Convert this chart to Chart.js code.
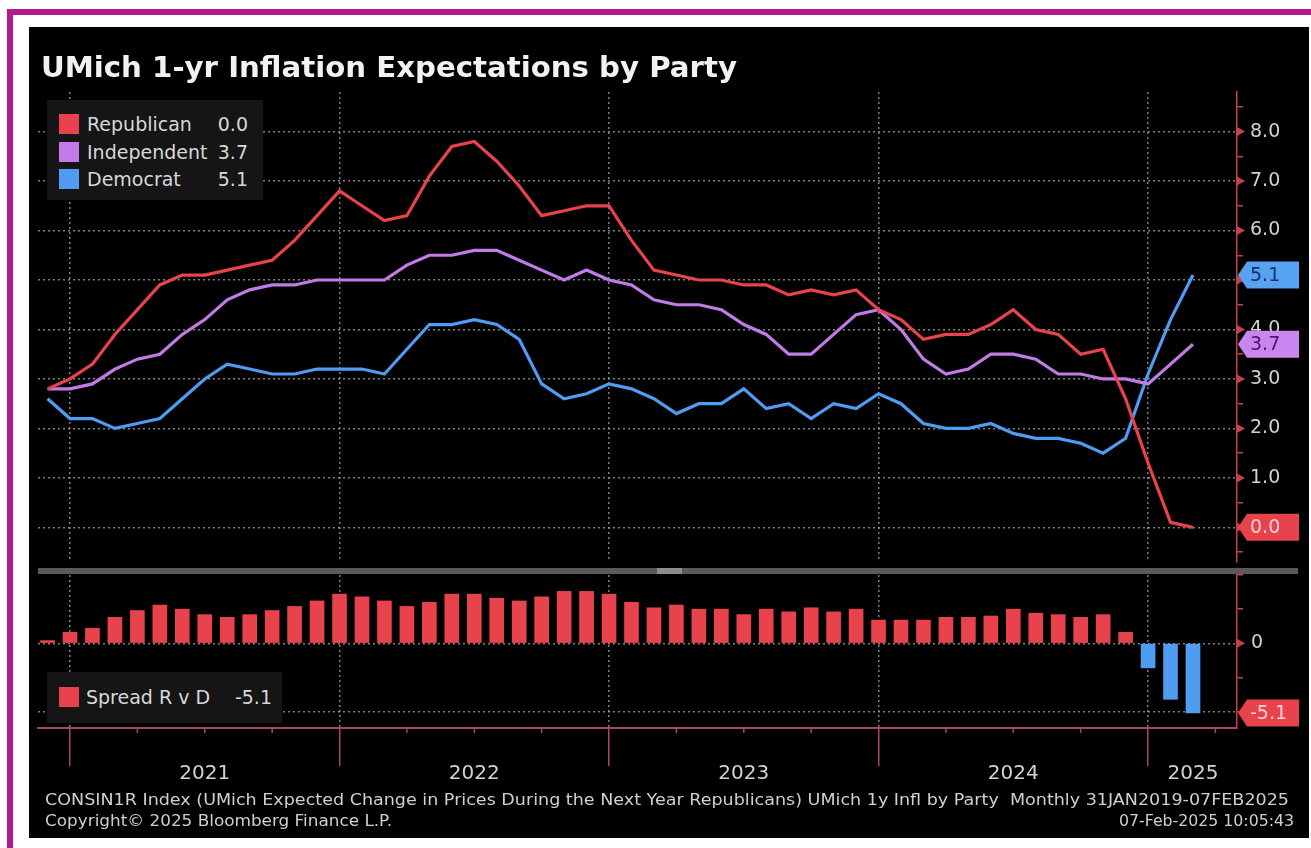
<!DOCTYPE html>
<html>
<head>
<meta charset="utf-8">
<title>UMich 1-yr Inflation Expectations by Party</title>
<script src="https://cdn.jsdelivr.net/npm/chart.js@4.4.1/dist/chart.umd.min.js"></script>
<style>
  html, body { margin: 0; padding: 0; background: #ffffff; width: 1311px; height: 848px; overflow: hidden; position: relative; font-family: "DejaVu Sans", sans-serif; }
  .frame { position: absolute; background: #b01a8e; }
  #panel { position: absolute; left: 29px; top: 27px; width: 1280px; height: 811px; background: #000; }
  canvas { position: absolute; }
  .txt { position: absolute; white-space: nowrap; color: #d4d4d4; transform-origin: 0 50%; }
  #title { left: 41px; top: 50px; font-weight: bold; font-size: 29px; line-height: 34px; color: #f2f2f2; }
  .legend { position: absolute; background: #151515; z-index: 3; }
  .sw { position: absolute; width: 20px; height: 20px; }
  .lt { position: absolute; font-size: 19px; line-height: 22px; color: #d8d8d8; white-space: nowrap; }
  .lv { position: absolute; font-size: 19px; line-height: 22px; color: #d8d8d8; text-align: right; }
  #sep { position: absolute; left: 38px; top: 568px; width: 1260px; height: 6px; background: #5a5a5a; }
  #sepHandle { position: absolute; left: 657px; top: 568px; width: 25px; height: 6px; background: #8c8c8c; }
  .foot { font-size: 16px; line-height: 18px; color: #cfcfcf; }
</style>
</head>
<body>
<div class="frame" style="left:7px;top:9px;width:1304px;height:6px;"></div>
<div class="frame" style="left:7px;top:9px;width:6px;height:839px;"></div>
<div id="panel"></div>
<div id="sep"></div><div id="sepHandle"></div>
<canvas id="mainChart" width="1280" height="545" style="left:29px;top:27px;"></canvas>
<canvas id="spreadChart" width="1280" height="266" style="left:29px;top:572px;"></canvas>

<div id="title" class="txt">UMich 1-yr Inflation Expectations by Party</div>

<div id="legendMain" class="legend" style="left:47px;top:100px;width:216px;height:100px;"></div>
<div id="legendSpread" class="legend" style="left:47px;top:672px;width:235px;height:51px;"></div>

<div id="foot1" class="txt foot" style="left:45px;top:791px;">CONSIN1R Index (UMich Expected Change in Prices During the Next Year Republicans) UMich 1y Infl by Party&nbsp; Monthly 31JAN2019-07FEB2025</div>
<div id="foot2" class="txt foot" style="left:45px;top:812px;">Copyright© 2025 Bloomberg Finance L.P.</div>
<div id="foot3" class="txt foot" style="left:1119px;top:812px;">07-Feb-2025 10:05:43</div>

<script>
// ---- data (monthly survey readings, % expected price change over the next year) ----
const months = [
  'Nov 2020','Dec 2020',
  'Jan 2021','Feb 2021','Mar 2021','Apr 2021','May 2021','Jun 2021','Jul 2021','Aug 2021','Sep 2021','Oct 2021','Nov 2021','Dec 2021',
  'Jan 2022','Feb 2022','Mar 2022','Apr 2022','May 2022','Jun 2022','Jul 2022','Aug 2022','Sep 2022','Oct 2022','Nov 2022','Dec 2022',
  'Jan 2023','Feb 2023','Mar 2023','Apr 2023','May 2023','Jun 2023','Jul 2023','Aug 2023','Sep 2023','Oct 2023','Nov 2023','Dec 2023',
  'Jan 2024','Feb 2024','Mar 2024','Apr 2024','May 2024','Jun 2024','Jul 2024','Aug 2024','Sep 2024','Oct 2024','Nov 2024','Dec 2024',
  'Jan 2025','Feb 2025'
];
const republican = [2.8,3.0,3.3,3.9,4.4,4.9,5.1,5.1,5.2,5.3,5.4,5.8,6.3,6.8,6.5,6.2,6.3,7.1,7.7,7.8,7.4,6.9,6.3,6.4,6.5,6.5,5.8,5.2,5.1,5.0,5.0,4.9,4.9,4.7,4.8,4.7,4.8,4.4,4.2,3.8,3.9,3.9,4.1,4.4,4.0,3.9,3.5,3.6,2.6,1.3,0.1,0.0];
const independent = [2.8,2.8,2.9,3.2,3.4,3.5,3.9,4.2,4.6,4.8,4.9,4.9,5.0,5.0,5.0,5.0,5.3,5.5,5.5,5.6,5.6,5.4,5.2,5.0,5.2,5.0,4.9,4.6,4.5,4.5,4.4,4.1,3.9,3.5,3.5,3.9,4.3,4.4,4.0,3.4,3.1,3.2,3.5,3.5,3.4,3.1,3.1,3.0,3.0,2.9,3.3,3.7];
const democrat = [2.6,2.2,2.2,2.0,2.1,2.2,2.6,3.0,3.3,3.2,3.1,3.1,3.2,3.2,3.2,3.1,3.6,4.1,4.1,4.2,4.1,3.8,2.9,2.6,2.7,2.9,2.8,2.6,2.3,2.5,2.5,2.8,2.4,2.5,2.2,2.5,2.4,2.7,2.5,2.1,2.0,2.0,2.1,1.9,1.8,1.8,1.7,1.5,1.8,3.1,4.2,5.1];
const spreadRvD = [0.2,0.8,1.1,1.9,2.4,2.8,2.5,2.1,1.9,2.1,2.4,2.7,3.1,3.6,3.4,3.1,2.7,3.0,3.6,3.6,3.3,3.1,3.4,3.8,3.8,3.6,3.0,2.6,2.8,2.5,2.5,2.1,2.5,2.3,2.6,2.3,2.5,1.7,1.7,1.7,1.9,1.9,2.0,2.5,2.2,2.1,1.9,2.1,0.8,-1.8,-4.1,-5.1];

// year axis labels and the month each one is centred on
const yearLabels = ['2021','2022','2023','2024','2025'];
const yearLabelMonth = ['Jun 2021','Jun 2022','Jun 2023','Jun 2024','Feb 2025'];

// ---- styling ----
const RED = '#e8424c', PURPLE = '#c27be6', BLUE = '#4f9cf0';
const GRID = 'rgba(160,160,160,0.8)';
const AXIS_RED = '#c8404c';
const AXIS_PINK = '#a8485c';
const TICK_TXT = '#d2d2d2';
const X_MIN = -0.425, X_MAX = 52.96;

Chart.defaults.font.family = '"DejaVu Sans", sans-serif';

const yearEnds = months.map((m, i) => m.startsWith('Dec') ? i : -1).filter(i => i >= 0);
const yearLabelIdx = yearLabelMonth.map(m => months.indexOf(m));
const quarterIdx = months.map((m, i) => /^(Mar|Jun|Sep)/.test(m) ? i : -1).filter(i => i >= 0);
quarterIdx.push(months.length); // Mar 2025 quarter mark at the right edge

const pts = arr => arr.map((v, i) => ({ x: i, y: v }));
const last = arr => arr[arr.length - 1];

// keep the value axes from reserving room for their end labels
const noPad = s => { s.paddingTop = 0; s.paddingBottom = 0; };

// axis arrows, quarter ticks and end-of-series value tags
const axisDecor = {
  id: 'axisDecor',
  afterDraw(chart, args, opts) {
    const ctx = chart.ctx, ys = chart.scales.y, area = chart.chartArea;
    ctx.save();
    ctx.fillStyle = AXIS_RED;
    (opts.majors || []).forEach(v => {
      const y = ys.getPixelForValue(v);
      ctx.beginPath();
      ctx.moveTo(area.right, y - 4.5);
      ctx.lineTo(area.right + 8, y);
      ctx.lineTo(area.right, y + 4.5);
      ctx.closePath();
      ctx.fill();
    });
    if (opts.quarters) {
      const xs = chart.scales.x;
      ctx.strokeStyle = AXIS_PINK;
      ctx.lineWidth = 1.5;
      opts.quarters.forEach(v => {
        const x = xs.getPixelForValue(v);
        if (x > area.right) return;
        ctx.beginPath();
        ctx.moveTo(x, area.bottom);
        ctx.lineTo(x, area.bottom + 5);
        ctx.stroke();
      });
    }
    (opts.tags || []).forEach(t => {
      const y = ys.getPixelForValue(t.value);
      const x0 = area.right + 1, x1 = x0 + 9, x2 = x0 + 61, h = 27;
      ctx.fillStyle = t.bg;
      ctx.beginPath();
      ctx.moveTo(x0, y);
      ctx.lineTo(x1, y - h / 2);
      ctx.lineTo(x2, y - h / 2);
      ctx.lineTo(x2, y + h / 2);
      ctx.lineTo(x1, y + h / 2);
      ctx.closePath();
      ctx.fill();
      ctx.fillStyle = t.fg;
      ctx.font = '19px "DejaVu Sans"';
      ctx.textAlign = 'left';
      ctx.textBaseline = 'middle';
      ctx.fillText(t.text, x0 + 12, y + 1);
    });
    ctx.restore();
  }
};

const halfSteps = [];
for (let k = -1; k <= 17; k++) halfSteps.push(k * 0.5);
const isInt = v => Math.abs(v - Math.round(v)) < 1e-9;

// ---- upper panel: three party lines ----
new Chart(document.getElementById('mainChart'), {
  type: 'line',
  data: {
    datasets: [
      { label: 'Republican', data: pts(republican), borderColor: RED, borderWidth: 3.2, pointRadius: 0, tension: 0 },
      { label: 'Independent', data: pts(independent), borderColor: PURPLE, borderWidth: 3.2, pointRadius: 0, tension: 0 },
      { label: 'Democrat', data: pts(democrat), borderColor: BLUE, borderWidth: 3.2, pointRadius: 0, tension: 0 }
    ]
  },
  options: {
    responsive: false, animation: false, events: [],
    layout: { padding: { left: 9, top: 65, right: 0, bottom: 10 } },
    plugins: {
      legend: { display: false }, tooltip: { enabled: false },
      axisDecor: {
        majors: [0,1,2,3,4,5,6,7,8],
        tags: [
          { value: last(democrat), text: last(democrat).toFixed(1), bg: '#58a2f2', fg: '#15306c' },
          { value: last(independent), text: last(independent).toFixed(1), bg: '#c986f0', fg: '#4b176e' },
          { value: last(republican), text: last(republican).toFixed(1), bg: RED, fg: '#f7d2d4' }
        ]
      }
    },
    scales: {
      x: {
        type: 'linear', min: X_MIN, max: X_MAX, offset: false,
        afterBuildTicks: s => { s.ticks = yearEnds.map(v => ({ value: v })); },
        afterFit: s => { s.height = 0; s.paddingLeft = 0; s.paddingRight = 0; },
        ticks: { display: false },
        grid: { color: GRID, lineWidth: 1.5, drawTicks: false },
        border: { display: false, dash: [2, 3] }
      },
      y: {
        position: 'right', min: -0.7, max: 8.8,
        afterBuildTicks: s => { s.ticks = halfSteps.map(v => ({ value: v })); },
        afterFit: s => { s.width = 72; noPad(s); },
        ticks: {
          color: TICK_TXT, font: { size: 19 }, padding: 7, autoSkip: false,
          callback: v => (isInt(v) && v >= 0 && v <= 8) ? v.toFixed(1) : ''
        },
        grid: {
          color: c => (isInt(c.tick.value) && c.tick.value >= 0) ? GRID : 'transparent',
          lineWidth: 1.5,
          tickColor: c => isInt(c.tick.value) ? 'transparent' : AXIS_RED,
          tickLength: 6, tickWidth: 1.5, tickBorderDash: []
        },
        border: { color: AXIS_RED, width: 1.5, dash: [2, 3] }
      }
    }
  },
  plugins: [axisDecor]
});

// ---- lower panel: Republican minus Democrat spread ----
new Chart(document.getElementById('spreadChart'), {
  type: 'bar',
  data: {
    datasets: [{
      label: 'Spread R v D',
      data: pts(spreadRvD),
      backgroundColor: c => (c.raw && c.raw.y < 0) ? BLUE : RED,
      barThickness: 14
    }]
  },
  options: {
    responsive: false, animation: false, events: [],
    layout: { padding: { left: 9, top: 3, right: 0, bottom: 0 } },
    plugins: {
      legend: { display: false }, tooltip: { enabled: false },
      axisDecor: {
        majors: [0],
        quarters: quarterIdx,
        tags: [{ value: last(spreadRvD), text: last(spreadRvD).toFixed(1), bg: RED, fg: '#f7d2d4' }]
      }
    },
    scales: {
      x: {
        type: 'linear', min: X_MIN, max: X_MAX, offset: false,
        afterBuildTicks: s => { s.ticks = [...yearEnds, ...yearLabelIdx].sort((a, b) => a - b).map(v => ({ value: v })); },
        afterFit: s => { s.height = 110; s.paddingLeft = 0; s.paddingRight = 0; },
        ticks: {
          autoSkip: false, maxRotation: 0, color: TICK_TXT, font: { size: 20 }, padding: -4,
          callback: v => { const k = yearLabelIdx.indexOf(v); return k >= 0 ? yearLabels[k] : ''; }
        },
        grid: {
          offset: false,
          color: c => yearEnds.includes(c.tick.value) ? GRID : 'transparent',
          lineWidth: 1.5,
          tickColor: c => yearEnds.includes(c.tick.value) ? AXIS_PINK : 'transparent',
          tickLength: 38, tickWidth: 1.5, tickBorderDash: []
        },
        border: { color: AXIS_PINK, width: 2, dash: [2, 3] }
      },
      y: {
        position: 'right', min: -6.2, max: 5,
        afterBuildTicks: s => { s.ticks = [-5, -2.5, 0, 2.5, 5].map(v => ({ value: v })); },
        afterFit: s => { s.width = 72; noPad(s); },
        ticks: { color: TICK_TXT, font: { size: 19 }, padding: 8, autoSkip: false, callback: v => v === 0 ? '0' : '' },
        grid: {
          color: c => (c.tick.value === 0 || c.tick.value === -5) ? GRID : 'transparent',
          lineWidth: 1.5,
          tickColor: c => c.tick.value === 0 ? 'transparent' : AXIS_RED,
          tickLength: 6, tickWidth: 1.5, tickBorderDash: []
        },
        border: { color: AXIS_RED, width: 1.5, dash: [2, 3] }
      }
    }
  },
  plugins: [axisDecor]
});

// ---- legends ----
function legendRow(box, color, name, value, top, nameLeft, valueRight) {
  const sw = document.createElement('div');
  sw.className = 'sw'; sw.style.background = color;
  sw.style.left = '12px'; sw.style.top = (top - 10) + 'px';
  const nm = document.createElement('div');
  nm.className = 'lt'; nm.textContent = name;
  nm.style.left = nameLeft + 'px'; nm.style.top = (top - 11) + 'px';
  const vl = document.createElement('div');
  vl.className = 'lv'; vl.textContent = value;
  vl.style.right = valueRight + 'px'; vl.style.top = (top - 11) + 'px';
  box.append(sw, nm, vl);
}
const lm = document.getElementById('legendMain');
legendRow(lm, RED, 'Republican', last(republican).toFixed(1), 24, 40, 15);
legendRow(lm, PURPLE, 'Independent', last(independent).toFixed(1), 52, 40, 15);
legendRow(lm, BLUE, 'Democrat', last(democrat).toFixed(1), 79, 40, 15);
const ls = document.getElementById('legendSpread');
legendRow(ls, RED, 'Spread R v D', last(spreadRvD).toFixed(1), 25, 39, 10);

// ---- stretch single-line texts to their set widths ----
function fitWidth(id, w) {
  const el = document.getElementById(id);
  el.style.display = 'inline-block';
  const r = el.getBoundingClientRect().width;
  el.style.transform = 'scaleX(' + (w / r) + ')';
}
fitWidth('title', 696);
fitWidth('foot1', 1244);
fitWidth('foot2', 347);
fitWidth('foot3', 175);
</script>
</body>
</html>
